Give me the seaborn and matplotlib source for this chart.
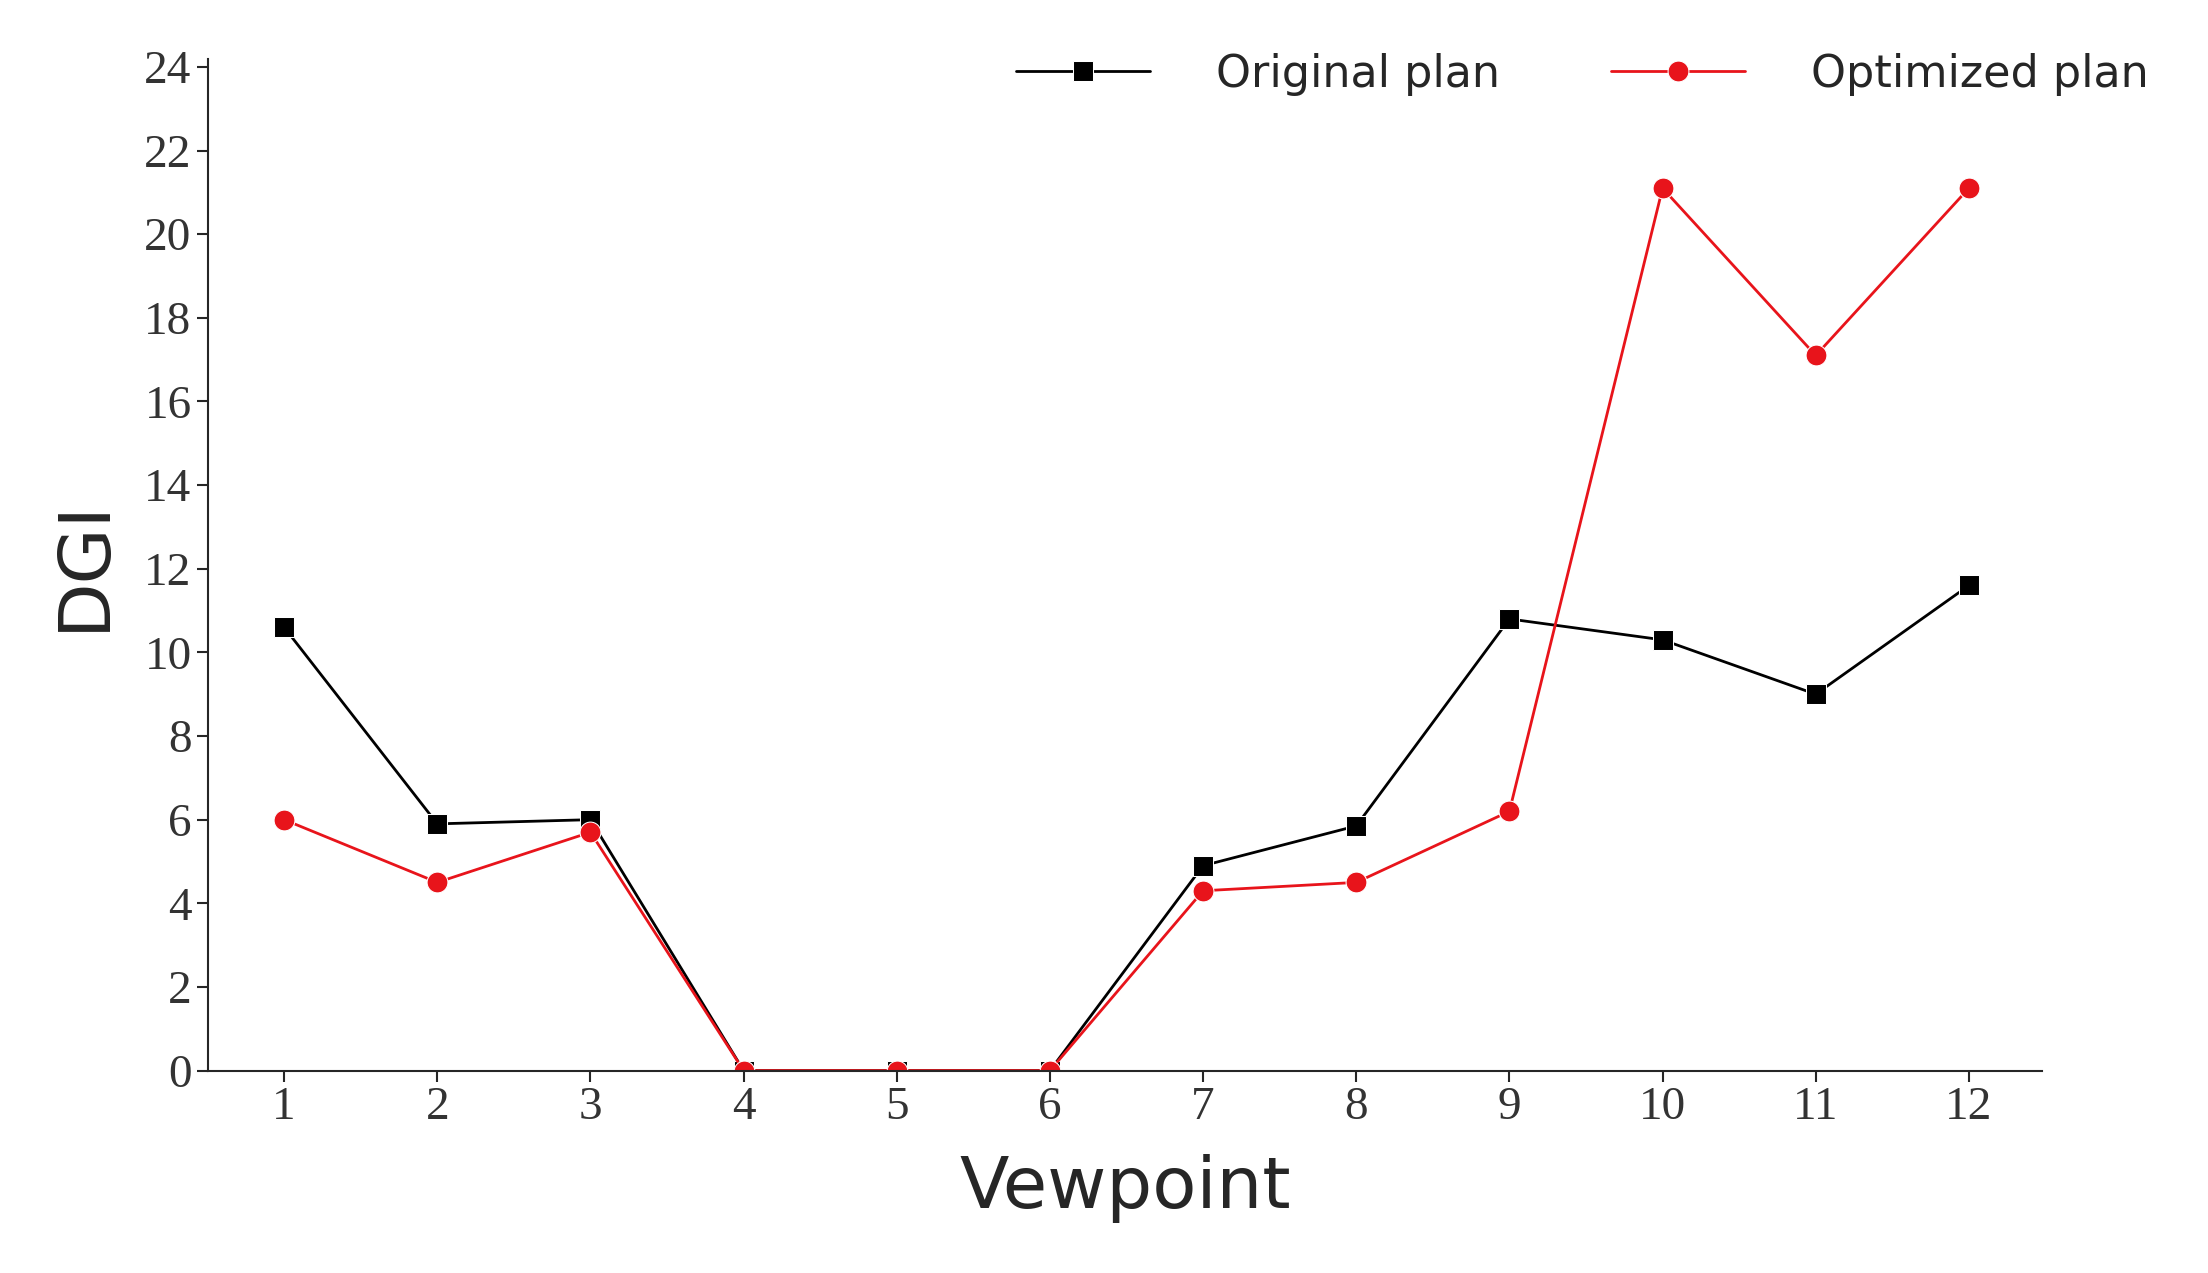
import matplotlib
matplotlib.use("Agg")
import matplotlib.pyplot as plt
import seaborn as sns
import pandas as pd

viewpoints = list(range(1, 13))
original = [10.6, 5.9, 6.0, 0, 0, 0, 4.9, 5.85, 10.8, 10.3, 9.0, 11.6]
optimized = [6.0, 4.5, 5.7, 0, 0, 0, 4.3, 4.5, 6.2, 21.1, 17.1, 21.1]

sns.set_style("ticks")
df = pd.DataFrame({"Viewpoint": viewpoints * 2,
                   "DGI": original + optimized,
                   "plan": ["Original plan"] * 12 + ["Optimized plan"] * 12})

fig = plt.figure(figsize=(22.08, 12.73), dpi=100)
ax = fig.add_axes([0.094, 0.159, 0.831, 0.795])
sns.lineplot(data=df, x="Viewpoint", y="DGI", hue="plan", style="plan",
             palette={"Original plan": "black", "Optimized plan": "#e8141b"},
             markers={"Original plan": "s", "Optimized plan": "o"}, dashes=False,
             markersize=15, linewidth=2, ax=ax, legend=True)
ax.set_xlim(0.5, 12.48)
ax.set_ylim(0, 24.2)
ax.set_xticks(viewpoints)
ax.set_yticks(range(0, 25, 2))
for lab in ax.get_xticklabels() + ax.get_yticklabels():
    lab.set_family("Liberation Serif")
    lab.set_fontsize(34)
    lab.set_color("#333333")
ax.tick_params(length=8, width=1.5)
ax.set_xlabel("Vewpoint", fontsize=52, family="DejaVu Sans", labelpad=18)
ax.set_ylabel("DGI", fontsize=52, family="DejaVu Sans", labelpad=18)
sns.despine(ax=ax)
for s in ["left", "bottom"]:
    ax.spines[s].set_linewidth(1.5)
ax.legend(title=None, frameon=False, ncol=2, fontsize=32, loc="upper right",
          bbox_to_anchor=(1.08, 1.045), columnspacing=2.5, handlelength=3, handletextpad=1.5)
fig.savefig("out.png", dpi=100)
